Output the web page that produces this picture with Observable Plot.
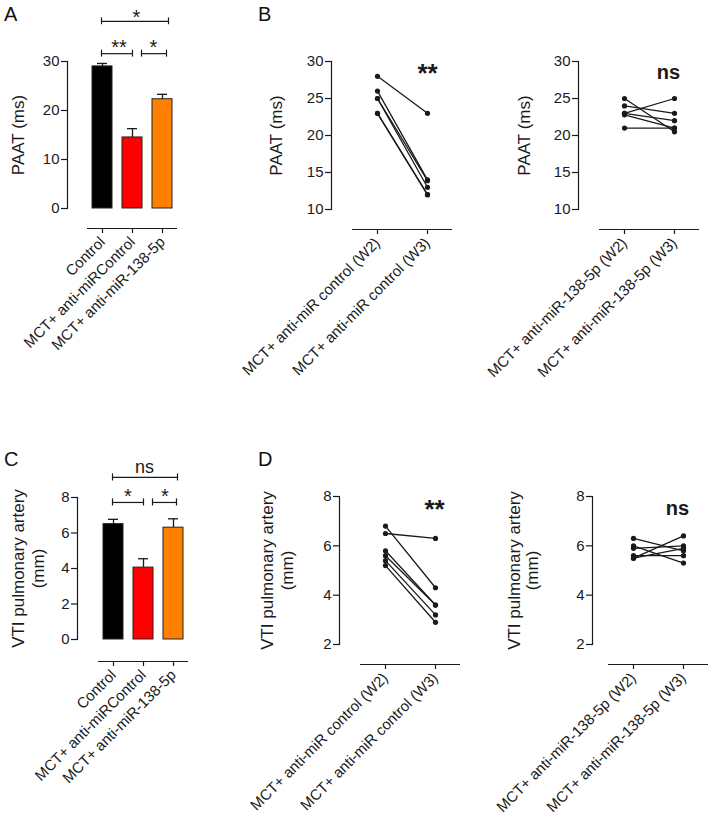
<!DOCTYPE html>
<html><head><meta charset="utf-8">
<script src="https://cdn.jsdelivr.net/npm/d3@7"></script>
<script src="https://cdn.jsdelivr.net/npm/@observablehq/plot@0.6"></script>
<style>
body{margin:0;background:#fff;}
#fig{position:relative;width:709px;height:822px;font-family:"Liberation Sans",Arial,sans-serif;color:#111;}
#fig svg{position:absolute;left:0;top:0;}
.plab{position:absolute;font-size:20px;line-height:20px;}
</style></head><body><div id="fig"></div>
<script>
// ---- data ----
const barGroups = ["Control", "MCT+ anti-miRControl", "MCT+ anti-miR-138-5p"];
const barFills = ["#000000", "#ff0000", "#ff8000"];
const paatMean = [29.0, 14.5, 22.3];
const paatSem = [0.6, 1.8, 1.0];
const vtiMean = [6.5, 4.05, 6.3];
const vtiSem = [0.27, 0.5, 0.5];
const ctrlWeeks = ["MCT+ anti-miR control (W2)", "MCT+ anti-miR control (W3)"];
const mirWeeks = ["MCT+ anti-miR-138-5p (W2)", "MCT+ anti-miR-138-5p (W3)"];
const paatCtrlW2 = [28, 26, 25, 25, 23, 23];
const paatCtrlW3 = [23, 14, 13.9, 13, 12, 12];
const paatMirW2 = [25, 24, 23, 23, 22.8, 21];
const paatMirW3 = [20.5, 23, 25, 22, 21, 21];
const vtiCtrlW2 = [6.8, 6.5, 5.8, 5.6, 5.4, 5.2];
const vtiCtrlW3 = [4.3, 6.3, 3.6, 3.6, 3.2, 2.9];
const vtiMirW2 = [6.3, 6.0, 5.9, 5.6, 5.5, 5.5];
const vtiMirW3 = [5.8, 5.3, 6.0, 5.6, 6.4, 5.9];
const paatTicks = [0, 10, 20, 30];
const paatPairTicks = [10, 15, 20, 25, 30];
const vtiTicks = [0, 2, 4, 6, 8];
const vtiPairTicks = [2, 4, 6, 8];
const paatLabel = ["PAAT (ms)"];
const vtiLabel = ["VTI pulmonary artery", "(mm)"];
// significance annotations (value units)
const bracketsA = [{a:0,b:2,y:38.2,l:-1,r:6},{a:0,b:1,y:31.6,l:-1,r:0},{a:1,b:2,y:31.6,l:9,r:4}];
const signsA = [{c:1,dx:4,y:39,t:"*"},{c:0,dx:16.5,y:32.9,t:"**"},{c:1,dx:21,y:32.9,t:"*"}];
const bracketsC = [{a:0,b:2,y:9.13,l:-1,r:4},{a:0,b:1,y:7.72,l:-1,r:0},{a:1,b:2,y:7.72,l:9,r:3}];
const signsC = [{c:1,dx:1,y:9.69,t:"ns",fs:18},{c:0,dx:14.5,y:8.06,t:"*"},{c:1,dx:21.5,y:8.06,t:"*"}];

const W = 709, H = 822;
const INK = "#1a1a1a";
const FONT = '"Liberation Sans", Arial, sans-serif';
const fig = document.getElementById("fig");

function common(left, top, bottom, right) {
  return {width: W, height: H, marginLeft: left, marginTop: top, marginBottom: H - bottom, marginRight: W - right,
    style: {background: "transparent", fontFamily: FONT, fontSize: "15px", color: INK, overflow: "visible"}};
}

function axes(domain, ticks, dyAxis, inL, label, labelDx) {
  return [
    Plot.frame({anchor: "left", stroke: INK, strokeWidth: 1.2}),
    Plot.axisY({ticks, tickFormat: d => String(d), tickSize: 6, tickPadding: 2, label: null, stroke: INK, strokeWidth: 1.2}),
    Plot.axisX({anchor: "bottom", dy: dyAxis, tickSize: 5, tickPadding: 6, tickRotate: -45, label: null, stroke: INK, strokeWidth: 1.2}),
    Plot.ruleY([domain[0]], {dy: dyAxis, insetLeft: inL, stroke: INK, strokeWidth: 1.2}),
    ...label.map((t, i) => Plot.text([t], {frameAnchor: "left", textAnchor: "middle", lineAnchor: "middle", rotate: -90, dx: labelDx[i], fontSize: 17, fill: INK}))
  ];
}

function barPanel(o) {
  const rows = barGroups.map((g, i) => ({g, m: o.mean[i], hi: o.mean[i] + o.sem[i], c: barFills[i]}));
  const bw = 20;
  const capH = o.capH;
  const bmarks = [];
  for (const b of o.brackets) {
    const row = [{a: barGroups[b.a], b: barGroups[b.b], y: b.y}];
    bmarks.push(Plot.ruleY(row, {x1: "a", x2: "b", y: "y", insetLeft: bw / 2 + b.l, insetRight: bw / 2 - b.r, stroke: INK, strokeWidth: 1.2}));
    bmarks.push(Plot.ruleX(row, {x: "a", y1: d => d.y - capH, y2: d => d.y + capH, dx: b.l, stroke: INK, strokeWidth: 1.2}));
    bmarks.push(Plot.ruleX(row, {x: "b", y1: d => d.y - capH, y2: d => d.y + capH, dx: b.r, stroke: INK, strokeWidth: 1.2}));
  }
  for (const s of o.signs) {
    bmarks.push(Plot.text([{c: barGroups[s.c], y: s.y, t: s.t}], {x: "c", y: "y", text: "t", dx: s.dx, fontSize: s.fs || 20, fill: INK}));
  }
  return Plot.plot({
    ...common(o.left, o.top, o.bottom, o.xr[1]),
    x: {type: "band", domain: barGroups, range: o.xr, paddingInner: 1/3, paddingOuter: 1/6, axis: null},
    y: {domain: o.domain, axis: null},
    marks: [
      ...axes(o.domain, o.ticks, o.dyAxis, o.xr[0] - o.left, o.label, o.labelDx),
      Plot.ruleX(rows, {x: "g", y1: "m", y2: "hi", stroke: INK, strokeWidth: 1.3}),
      Plot.tickY(rows, {x: "g", y: "hi", insetLeft: 5, insetRight: 5, stroke: INK, strokeWidth: 1.3}),
      Plot.barY(rows, {x: "g", y: "m", fill: "c", stroke: "#222", strokeWidth: 1}),
      ...bmarks
    ]
  });
}

function pairPanel(o) {
  const rows = [];
  o.w2.forEach((v, i) => { rows.push({id: i, w: o.cats[0], v}); rows.push({id: i, w: o.cats[1], v: o.w3[i]}); });
  return Plot.plot({
    ...common(o.left, o.top, o.bottom, o.xr[1]),
    x: {type: "point", domain: o.cats, range: o.xr, padding: 0.5, axis: null},
    y: {domain: o.domain, axis: null},
    marks: [
      ...axes(o.domain, o.ticks, o.dyAxis, o.xr[0] - o.left, o.label, o.labelDx),
      Plot.line(rows, {x: "w", y: "v", z: "id", stroke: INK, strokeWidth: 1.3}),
      Plot.dot(rows, {x: "w", y: "v", r: 2.6, fill: INK, stroke: "none"}),
      Plot.text([{w: o.cats[1], y: o.sig.y, t: o.sig.t}], {x: "w", y: "y", text: "t", dx: o.sig.dx, fontSize: o.sig.fs, fontWeight: "bold", fill: INK})
    ]
  });
}

fig.append(barPanel({left: 67, top: 61, bottom: 208, xr: [87, 177], dyAxis: 20, domain: [0, 30], ticks: paatTicks,
  label: paatLabel, labelDx: [-49], mean: paatMean, sem: paatSem, brackets: bracketsA, signs: signsA, capH: 0.7}));
fig.append(pairPanel({left: 331, top: 61, bottom: 209, xr: [352, 452], dyAxis: 20, domain: [10, 30], ticks: paatPairTicks,
  label: paatLabel, labelDx: [-55], cats: ctrlWeeks, w2: paatCtrlW2, w3: paatCtrlW3, sig: {t: "**", y: 28.3, dx: 0, fs: 26}}));
fig.append(pairPanel({left: 578, top: 61, bottom: 209, xr: [599, 699], dyAxis: 20, domain: [10, 30], ticks: paatPairTicks,
  label: paatLabel, labelDx: [-54], cats: mirWeeks, w2: paatMirW2, w3: paatMirW3, sig: {t: "ns", y: 28.45, dx: -6, fs: 20}}));
fig.append(barPanel({left: 77, top: 497, bottom: 639, xr: [98, 188], dyAxis: 22, domain: [0, 8], ticks: vtiTicks,
  label: vtiLabel, labelDx: [-59, -39], mean: vtiMean, sem: vtiSem, brackets: bracketsC, signs: signsC, capH: 0.2}));
fig.append(pairPanel({left: 339, top: 496, bottom: 644, xr: [360, 460], dyAxis: 20, domain: [2, 8], ticks: vtiPairTicks,
  label: vtiLabel, labelDx: [-71.5, -52], cats: ctrlWeeks, w2: vtiCtrlW2, w3: vtiCtrlW3, sig: {t: "**", y: 7.45, dx: -1, fs: 26}}));
fig.append(pairPanel({left: 592, top: 496, bottom: 644, xr: [608, 708], dyAxis: 20, domain: [2, 8], ticks: vtiPairTicks,
  label: vtiLabel, labelDx: [-77.5, -60], cats: mirWeeks, w2: vtiMirW2, w3: vtiMirW3, sig: {t: "ns", y: 7.51, dx: -6, fs: 20}}));

for (const [t, x, y] of [["A", 4, 4], ["B", 258, 4], ["C", 4, 449], ["D", 258, 449]]) {
  const d = document.createElement("div");
  d.className = "plab"; d.textContent = t; d.style.left = x + "px"; d.style.top = y + "px";
  fig.append(d);
}
</script></body></html>
